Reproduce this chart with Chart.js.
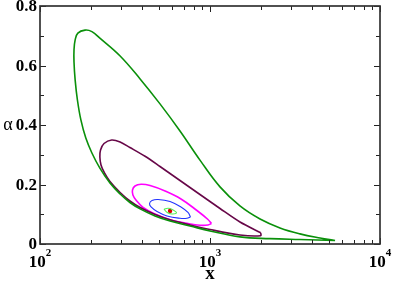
<!DOCTYPE html>
<html>
<head>
<meta charset="utf-8">
<script src="https://cdn.jsdelivr.net/npm/chart.js@4.4.1/dist/chart.umd.min.js"></script>
<style>
  html, body { margin:0; padding:0; background:#fff; }
  #wrap { width:393px; height:281px; }
</style>
</head>
<body>
<div id="wrap"><canvas id="ch-contours"></canvas></div>
<script>
// ---- data ----
const xTickVals = [100, 1000, 10000];
const xTickExps = ['2', '3', '4'];
const yTickVals = [0, 0.2, 0.4, 0.6, 0.8];
const yTickLabels = ['0', '0.2', '0.4', '0.6', '0.8'];

// outer contour (green)
const greenX = [5440,4440,3380,2580,1970,1500,1145,873,666,508,388,296,225,202,184,167,161,158.5,158.5,161,166,174,186,202,225,258,296,338,388,475,582,763,1000,1500,2250,3380,5440];
const greenY = [0.0118,0.020,0.034,0.054,0.084,0.128,0.192,0.282,0.380,0.471,0.555,0.632,0.692,0.714,0.719,0.709,0.686,0.652,0.612,0.551,0.484,0.417,0.356,0.306,0.255,0.205,0.168,0.1395,0.118,0.094,0.077,0.0605,0.044,0.024,0.018,0.015,0.0118];

// second contour (maroon)
const purpleX = [1987,1501,1145,873,666,508,415,338,296,264,238,227,225,228.5,239.5,258,296,338,388,475,582,763,1000,1501,1987,1987];
const purpleY = [0.038,0.0739,0.1193,0.1664,0.2134,0.2605,0.2948,0.3244,0.3429,0.3496,0.3378,0.316,0.2924,0.2655,0.2387,0.210,0.173,0.1445,0.1227,0.099,0.0813,0.064,0.0487,0.0303,0.0279,0.038];

// third contour (magenta)
const magentaX = [1020,973,838,675,544,444,393,362,350,352,367,404,475,582,732,873,973,1020];
const magentaY = [0.0689,0.0824,0.1126,0.1513,0.1782,0.1966,0.2007,0.195,0.1815,0.1647,0.1479,0.1227,0.1008,0.0817,0.0696,0.0629,0.0639,0.0689];

// fourth contour (blue)
const blueX = [768,742,675,582,495,456,441,450,488,559,666,732,768];
const blueY = [0.0908,0.1059,0.1244,0.1429,0.1496,0.1462,0.1361,0.1244,0.1092,0.0941,0.0864,0.0864,0.0908];

// innermost contour (light green)
const lightX = [536,567,600,635,598,560,536];
const lightY = [0.117,0.120,0.116,0.105,0.101,0.106,0.117];

// best fit point
const bestX = [582];
const bestY = [0.111];

const pts = (xs, ys) => xs.map((v, i) => ({ x: v, y: ys[i] }));
const SERIF = '"Liberation Serif", "DejaVu Serif", serif';

function loop(xs, ys, color, w, t) {
  return { data: pts(xs, ys), borderColor: color, borderWidth: w,
           pointRadius: 0, fill: false, tension: t };
}

// frame, inward ticks and all labels
const framePlugin = {
  id: 'frame',
  afterDraw(c) {
    const { ctx, chartArea: a, scales: { x, y } } = c;
    ctx.save();
    ctx.strokeStyle = '#222';
    ctx.lineWidth = 1;
    ctx.beginPath();
    for (let d = 2; d < 4; d++) {
      for (let m = 1; m <= 10; m++) {
        const px = Math.round(x.getPixelForValue(m * Math.pow(10, d))) + 0.5;
        const L = (m === 1 || m === 10) ? 6 : 4;
        ctx.moveTo(px, a.bottom); ctx.lineTo(px, a.bottom - L);
        ctx.moveTo(px, a.top); ctx.lineTo(px, a.top + L);
      }
    }
    for (let k = 0; k <= 8; k++) {
      const py = Math.round(y.getPixelForValue(k / 10)) + 0.5;
      const L = k % 2 === 0 ? 6 : 4;
      ctx.moveTo(a.left, py); ctx.lineTo(a.left + L, py);
      ctx.moveTo(a.right, py); ctx.lineTo(a.right - L, py);
    }
    ctx.stroke();
    ctx.strokeStyle = '#333';
    ctx.lineWidth = 1.7;
    ctx.strokeRect(a.left, a.top, a.right - a.left, a.bottom - a.top);

    ctx.fillStyle = '#000';
    ctx.font = 'bold 17px ' + SERIF;
    ctx.textAlign = 'right';
    ctx.textBaseline = 'middle';
    yTickVals.forEach((v, i) => ctx.fillText(yTickLabels[i], a.left - 3, y.getPixelForValue(v) + 1));

    ctx.textBaseline = 'alphabetic';
    ctx.textAlign = 'left';
    xTickVals.forEach((v, i) => {
      const px = x.getPixelForValue(v);
      ctx.font = 'bold 17px ' + SERIF;
      const wb = ctx.measureText('10').width;
      ctx.font = 'bold 11px ' + SERIF;
      const we = ctx.measureText(xTickExps[i]).width;
      const x0 = px - (wb + we) / 2;
      ctx.font = 'bold 17px ' + SERIF;
      ctx.fillText('10', x0, 267);
      ctx.font = 'bold 11px ' + SERIF;
      ctx.fillText(xTickExps[i], x0 + wb, 256);
    });

    ctx.textAlign = 'center';
    ctx.font = 'bold 19px ' + SERIF;
    ctx.fillText('x', (a.left + a.right) / 2, 279);
    ctx.font = '18px ' + SERIF;
    ctx.fillText('\u03b1', 8, 130);
    ctx.restore();
  }
};

new Chart(document.getElementById('ch-contours'), {
  type: 'line',
  data: {
    datasets: [
      loop(greenX, greenY, '#0a900a', 1.6, 0.4),
      loop(purpleX, purpleY, '#670748', 1.6, 0.3),
      loop(magentaX, magentaY, '#ff00ff', 1.6, 0.4),
      loop(blueX, blueY, '#2233ff', 1.1, 0.4),
      loop(lightX, lightY, '#55ee55', 1.1, 0.4),
      { data: pts(bestX, bestY), pointRadius: 2.2, pointBackgroundColor: '#dd0000', pointBorderWidth: 0, showLine: false }
    ]
  },
  options: {
    responsive: true, maintainAspectRatio: false, animation: false,
    layout: { padding: { left: 0, right: 13, top: 6, bottom: 0 } },
    plugins: { legend: { display: false }, tooltip: { enabled: false } },
    scales: {
      x: { type: 'logarithmic', min: 100, max: 10000,
           grid: { display: false }, border: { display: false }, ticks: { display: false },
           afterFit: s => { s.height = 37; } },
      y: { type: 'linear', min: 0, max: 0.8,
           grid: { display: false }, border: { display: false }, ticks: { display: false },
           afterFit: s => { s.width = 40; } }
    }
  },
  plugins: [framePlugin]
});
</script>
</body>
</html>
